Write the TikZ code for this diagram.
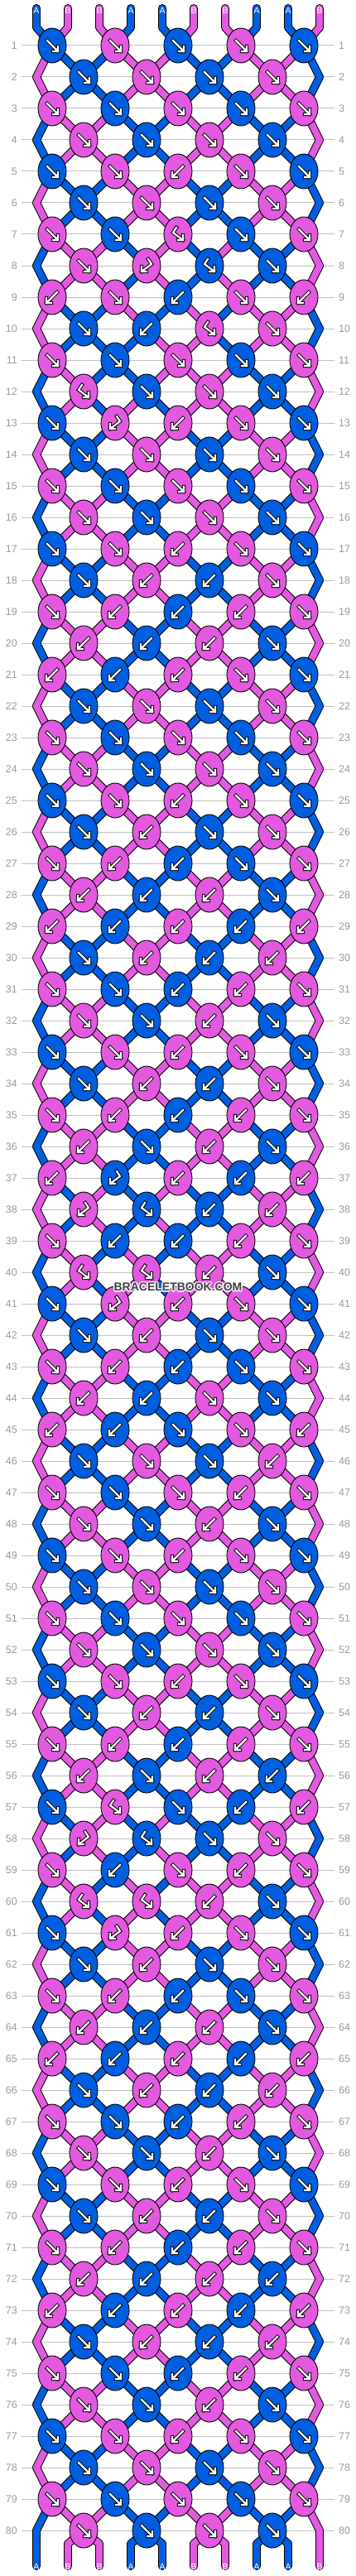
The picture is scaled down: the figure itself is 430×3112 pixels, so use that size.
\documentclass[tikz,border=0pt]{standalone}
\usepackage{fontspec}
\setmainfont{Liberation Sans}
\usetikzlibrary{shapes.geometric}
\pgfdeclarelayer{grid}\pgfdeclarelayer{strands}
\pgfsetlayers{grid,strands,main}
\definecolor{B}{HTML}{005FE0}
\definecolor{P}{HTML}{E35AE0}
\definecolor{gridgray}{HTML}{C0C0C0}
\definecolor{numgray}{HTML}{999999}
\definecolor{wmark}{HTML}{404040}

\def\stA{B,P,P,B,B,P,P,B,B,P}
\def\stS{P,B,B,P,P,B,B,P,P,B}
\def\stC{B,P,P,B,P,B,P,B,B,P}
\def\stD{P,B,B,P,B,P,B,P,P,B}
\def\stE{P,B,B,B,P,P,B,P,P,B}
\def\stF{B,P,B,B,P,P,P,B,B,P}
\def\stG{B,P,B,P,B,P,P,B,B,P}
\def\stH{P,B,P,B,P,B,B,P,P,B}
\def\statelist{A,S,S,A,A,S,S,C,C,D,E,F,G,S,S,A,A,S,S,A,A,S,S,A,A,S,S,A,A,S,S,A,A,S,S,A,A,H,H,G,G,S,S,A,A,S,S,A,A,S,S,A,A,S,S,A,A,H,H,G,G,S,S,A,A,S,S,A,A,S,S,A,A,S,S,A,A,S,S,A,A}

\def\knotrows{%
{B/f,P/f,B/f,P/f,B/f},%
{B/f,P/f,B/f,P/f},%
{P/f,B/f,P/f,B/f,P/f},%
{P/f,B/f,P/f,B/f},%
{B/f,P/f,P/b,P/f,B/f},%
{B/f,P/f,B/f,P/f},%
{P/f,B/f,P/fb,B/f,P/f},%
{P/f,P/bf,B/fb,B/f},%
{P/b,P/f,B/b,P/f,P/b},%
{B/f,B/b,P/fb,P/f},%
{P/f,B/f,P/f,B/f,P/f},%
{P/fb,B/f,P/f,B/f},%
{B/f,P/bf,P/b,P/f,B/f},%
{B/f,P/f,B/f,P/f},%
{P/f,B/f,P/f,B/f,P/f},%
{P/f,B/f,P/f,B/f},%
{B/f,P/f,P/b,P/f,B/f},%
{B/f,P/b,B/b,P/f},%
{P/f,P/b,B/b,P/b,P/f},%
{P/b,B/b,P/b,B/f},%
{P/b,B/b,P/b,P/f,B/f},%
{B/f,P/f,B/f,P/f},%
{P/f,B/f,P/f,B/f,P/f},%
{P/f,B/f,P/f,B/f},%
{B/f,P/f,P/b,P/f,B/f},%
{B/f,P/b,B/f,P/f},%
{P/f,P/b,B/b,B/f,P/f},%
{P/b,B/b,P/b,B/f},%
{P/b,B/b,P/b,B/b,P/b},%
{B/f,P/b,B/b,P/b},%
{P/f,B/f,B/b,P/b,P/f},%
{P/f,B/f,P/b,B/f},%
{B/f,P/f,P/b,P/f,B/f},%
{B/f,P/b,B/b,P/f},%
{P/f,P/b,B/b,P/b,P/f},%
{P/b,B/f,P/b,B/f},%
{P/b,B/bf,P/b,B/b,P/b},%
{P/bf,B/fb,B/b,P/b},%
{P/f,B/b,B/b,P/b,P/f},%
{P/fb,P/fb,P/b,B/f},%
{B/f,P/bf,P/b,P/f,B/f},%
{B/f,P/b,B/f,P/f},%
{P/f,P/b,B/b,B/f,P/f},%
{P/b,B/b,P/f,B/f},%
{P/b,B/b,B/f,P/f,P/b},%
{B/f,P/f,B/f,P/b},%
{P/f,B/f,P/f,P/b,P/f},%
{P/f,B/f,P/b,B/f},%
{B/f,P/f,P/b,P/f,B/f},%
{B/f,P/f,B/f,P/f},%
{P/f,B/f,P/f,B/f,P/f},%
{P/f,B/f,P/f,B/f},%
{B/f,P/f,P/b,P/f,B/f},%
{B/f,P/b,B/b,P/f},%
{P/f,P/b,B/b,P/b,P/f},%
{P/b,B/f,P/b,B/b},%
{B/f,P/fb,B/f,B/b,P/b},%
{P/bf,B/fb,B/f,P/f},%
{P/f,B/b,P/f,P/b,P/f},%
{P/fb,P/fb,P/b,B/f},%
{B/f,P/bf,P/b,P/f,B/f},%
{B/f,P/b,B/f,P/f},%
{P/f,P/b,B/b,B/f,P/f},%
{P/b,B/b,P/b,B/f},%
{P/b,B/b,P/b,B/b,P/b},%
{B/f,P/b,B/b,P/b},%
{P/f,B/f,B/b,P/b,P/f},%
{P/f,B/f,P/b,B/f},%
{B/f,P/f,P/b,P/f,B/f},%
{B/f,P/b,B/b,P/f},%
{P/f,P/b,B/b,P/b,P/f},%
{P/b,B/b,P/b,B/b},%
{P/b,B/b,P/b,B/b,P/b},%
{B/f,P/b,B/b,P/b},%
{P/f,B/f,B/b,P/b,P/f},%
{P/f,B/f,P/b,B/f},%
{B/f,P/f,P/b,P/f,B/f},%
{B/f,P/f,B/f,P/f},%
{P/f,B/f,P/f,B/f,P/f},%
{P/f,B/f,P/f,B/f}%
}

\tikzset{
  knot/.style={ellipse, draw=black, line width=0.9pt, minimum width=34pt, minimum height=42pt, inner sep=0pt},
  strout/.style={draw=black, line width=10pt, line cap=round, line join=round},
  strin/.style={line width=8pt, line cap=round, line join=round},
  aro/.style={draw=black, line width=4.2pt, line cap=rect, line join=miter},
  ari/.style={draw=white, line width=2.2pt, line cap=rect, line join=miter},
  gridline/.style={draw=gridgray, line width=1pt},
  rowlab/.style={text=numgray, font=\fontsize{12.5}{12.5}\selectfont, inner sep=0pt},
  endlab/.style={text=white, font=\fontsize{10.5}{10.5}\selectfont, inner sep=0pt},
  wmtext/.style={font=\fontsize{14}{14}\selectfont\bfseries, inner sep=0pt}
}

\newcommand\arrowpath[1]{\draw[aro] #1; \draw[ari] #1;}
\newcommand\knarf{\arrowpath{(-6,-6)--(7,7) (7,1)--(7,7)--(1,7)}}
\newcommand\knarb{\arrowpath{(6,-6)--(-7,7) (-7,1)--(-7,7)--(-1,7)}}
\newcommand\knarfb{\arrowpath{(-2,-8)--(-6,-2)--(6,7) (6,1)--(6,7)--(0,7)}}
\newcommand\knarbf{\arrowpath{(2,-8)--(6,-2)--(-6,7) (-6,1)--(-6,7)--(0,7)}}

\newcommand\setpt[3]{%
  \ifnum#2=0 \edef#1{tb-#3}%
  \else\ifnum#2=81 \edef#1{bb-#3}%
  \else\ifodd#2 \pgfmathtruncatemacro\tmpc{#3/2}\edef#1{k-#2-\tmpc}%
  \else\ifnum#3=0 \edef#1{el-#2}%
  \else\ifnum#3=9 \edef#1{er-#2}%
  \else\pgfmathtruncatemacro\tmpc{(#3-1)/2}\edef#1{k-#2-\tmpc}%
  \fi\fi\fi\fi\fi}

\newcommand\drawstrands[1]{%
  \foreach \c [count=\p from 0] in \stA {%
    \ifnum#1=0 \draw[strout] (tt-\p.center) -- (tb-\p.center);%
    \else \draw[strin, draw=\c] (tt-\p.center) -- (tb-\p.center);\fi
  }%
  \foreach \sname [count=\r from 0] in \statelist {%
    \pgfmathtruncatemacro\rn{\r+1}%
    \expandafter\let\expandafter\cur\csname st\sname\endcsname
    \foreach \c [count=\p from 0] in \cur {%
      \setpt\ptA{\r}{\p}\setpt\ptB{\rn}{\p}%
      \ifnum#1=0 \draw[strout] (\ptA.center) -- (\ptB.center);%
      \else \draw[strin, draw=\c] (\ptA.center) -- (\ptB.center);\fi
    }%
  }%
  \foreach \c [count=\p from 0] in \stA {%
    \ifnum#1=0 \draw[strout] (bb-\p.center) -- (be-\p.center);%
    \else \draw[strin, draw=\c] (bb-\p.center) -- (be-\p.center);\fi
  }%
}

\def\Bname{B}

\begin{document}
\begin{tikzpicture}[x=1pt,y=-1pt]
\useasboundingbox (0,0) rectangle (430,3112);
\begin{pgfonlayer}{grid}
\fill[white] (0,0) rectangle (430,3112);
\end{pgfonlayer}

% row lines and numbers
\foreach \r in {1,...,80} {
  \pgfmathsetmacro\yy{55+38*(\r-1)}
  \node[rowlab, anchor=east] (nl-\r) at (21,\yy) {\r};
  \node[rowlab, anchor=west] (nr-\r) at (409,\yy) {\r};
  \begin{pgfonlayer}{grid}
    \draw[gridline] (26,\yy) -- (404,\yy);
  \end{pgfonlayer}
}

% string end points and edge turning points
\foreach \p in {0,...,9} {
  \pgfmathsetmacro\xx{44+38*\p}
  \coordinate (tt-\p) at (\xx,10);
  \coordinate (tb-\p) at (\xx,33);
  \coordinate (bb-\p) at (\xx,3073);
  \coordinate (be-\p) at (\xx,3100);
}
\foreach \r in {2,4,...,80} {
  \pgfmathsetmacro\yy{55+38*(\r-1)}
  \coordinate (el-\r) at (44,\yy);
  \coordinate (er-\r) at (386,\yy);
}

% knots
\foreach \row [count=\r] in \knotrows {
  \pgfmathsetmacro\yy{55+38*(\r-1)}
  \foreach \c/\t [count=\i from 0] in \row {
    \ifodd\r \pgfmathsetmacro\xx{63+76*\i}\else \pgfmathsetmacro\xx{101+76*\i}\fi
    \node[knot, fill=\c] (k-\r-\i) at (\xx,\yy) {};
    \begin{scope}[shift={(k-\r-\i.center)}]
      \csname knar\t\endcsname
    \end{scope}
  }
}

% strands
\begin{pgfonlayer}{strands}
  \drawstrands{0}
  \drawstrands{1}
\end{pgfonlayer}

% end labels
\foreach \c [count=\p from 0] in \stA {
  \pgfmathsetmacro\xx{44+38*\p}
  \node[endlab] (lt-\p) at (\xx,12.5) {\ifx\c\Bname A\else B\fi};
  \node[endlab] (lb-\p) at (\xx,3100.5) {\ifx\c\Bname A\else B\fi};
}

% watermark
\foreach \dx/\dy [count=\h] in {-1/-1,0/-1,1/-1,-1/0,1/0,-1/1,0/1,1/1,-1.5/0,1.5/0,0/-1.5,0/1.5} {
  \node[wmtext, text=white, opacity=0.75] (wmh-\h) at (215+\dx,1555+\dy) {BRACELETBOOK.COM};
}
\node[wmtext, text=wmark] (wm) at (215,1555) {BRACELETBOOK.COM};
\end{tikzpicture}
\end{document}
